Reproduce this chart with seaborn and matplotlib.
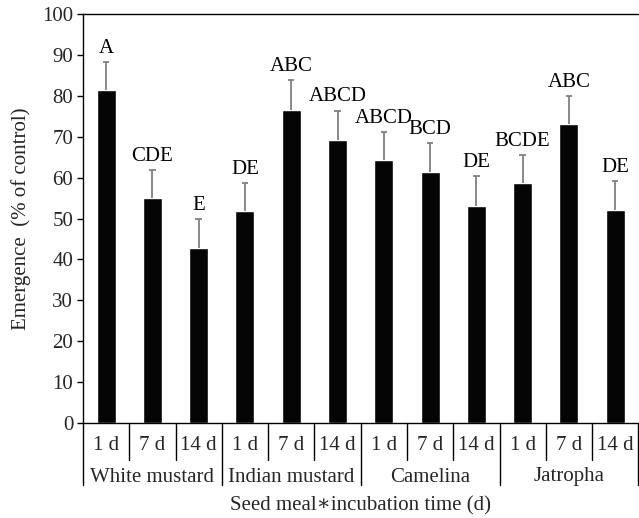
import matplotlib
matplotlib.use("Agg")
import matplotlib.pyplot as plt
import matplotlib.transforms as mtrans
import seaborn as sns
import pandas as pd
import numpy as np

meals = ["White mustard", "Indian mustard", "Camelina", "Jatropha"]
times = ["1 d", "7 d", "14 d"]
means = [81.4, 55.0, 42.7, 51.8, 76.5, 69.2, 64.3, 61.4, 53.1, 58.7, 73.1, 52.1]
err_top = [88.3, 61.9, 49.8, 58.7, 83.9, 76.4, 71.1, 68.5, 60.3, 65.5, 79.9, 59.2]
letters = ["A", "CDE", "E", "DE", "ABC", "ABCD", "ABCD", "BCD", "DE", "BCDE", "ABC", "DE"]

FS = 15
sns.set_theme(style="white")
plt.rcParams["font.family"] = ["Liberation Serif", "DejaVu Serif"]
plt.rcParams["font.size"] = FS

labels = [f"{m}|{t}" for m in meals for t in times]
df = pd.DataFrame({"cat": labels, "val": means})

fig = plt.figure(figsize=(6.39, 5.18), dpi=100)
ax = fig.add_axes([83/639, 1 - 423/518, 1 - 83/639 - 0.001, (423 - 14)/518])
sns.barplot(data=df, x="cat", y="val", color="#050505", width=0.41, ax=ax,
            saturation=1, errorbar=None)
xs = np.arange(len(means))
ax.vlines(xs, means, err_top, color="#808080", lw=1.3, zorder=1)
ax.hlines(err_top, xs - 0.07, xs + 0.07, color="#808080", lw=1.3, zorder=1)
for x, top, lab in zip(xs, err_top, letters):
    ax.text(x, top + 1.0, lab, ha="center", va="bottom", fontsize=FS, color="black")

ax.set_ylim(0, 100)
ax.set_xlim(-0.5, len(means) - 0.5)
ax.set_yticks(range(0, 101, 10))
ax.tick_params(axis="y", direction="out", length=4, width=1, color="black",
               left=True, labelsize=FS, pad=3)
ax.set_xticks(xs)
ax.set_xticklabels([t for m in meals for t in times], fontsize=FS)
ax.tick_params(axis="x", length=0, pad=9)
ax.set_xlabel("Seed meal\u2217incubation time (d)", fontsize=FS, labelpad=30)
ax.set_ylabel("Emergence  (% of control)", fontsize=FS, labelpad=8)
for s in ["left", "bottom", "top"]:
    ax.spines[s].set_color("black")
    ax.spines[s].set_linewidth(1)
ax.spines["right"].set_visible(False)

trans = mtrans.blended_transform_factory(ax.transData, ax.transAxes)
px = 1 / (423 - 14)
for i in range(len(means) + 1):
    b = i - 0.5
    y1 = -62 * px if i % 3 == 0 else -37 * px
    ax.plot([b, b], [0, y1], transform=trans, color="black", lw=1, clip_on=False)
for g, m in enumerate(meals):
    ax.text(3 * g + 1, -54 * px, m, transform=trans, ha="center", va="center",
            fontsize=FS)

fig.savefig("out.png", dpi=100)
